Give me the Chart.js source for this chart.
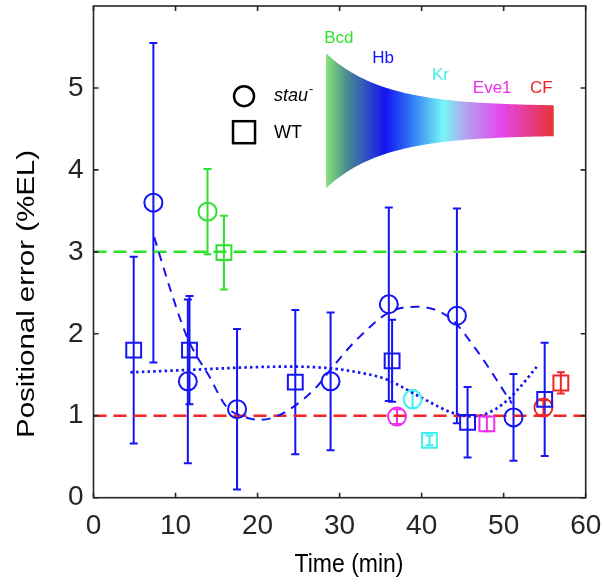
<!DOCTYPE html>
<html>
<head>
<meta charset="utf-8">
<script src="https://cdn.jsdelivr.net/npm/chart.js@4.4.0/dist/chart.umd.min.js"></script>
<style>
  html, body { margin: 0; padding: 0; background: #fff; }
</style>
</head>
<body>
<canvas id="errChart" width="604" height="584"></canvas>
<script>
// positional error of the gap gene boundaries, stau- embryos vs WT

// Hb (blue) - the full time courses
const hbStauTime = [7.3, 11.5, 17.5, 28.9, 36.0, 44.3, 51.2];
const hbStauErr  = [3.60, 1.42, 1.08, 1.42, 2.36, 2.22, 0.98];
const hbStauSd   = [1.95, 1.00, 0.98, 0.84, 1.18, 1.31, 0.53];
const hbWtTime   = [4.9, 11.7, 24.6, 36.4, 45.6, 55.0];
const hbWtErr    = [1.80, 1.80, 1.41, 1.67, 0.92, 1.20];
const hbWtSd     = [1.14, 0.66, 0.88, 0.50, 0.43, 0.69];

// single measurements for the other genes
const bcdStauTime = [13.9],  bcdStauErr = [3.49], bcdStauSd = [0.52];
const bcdWtTime   = [15.9],  bcdWtErr   = [2.99], bcdWtSd   = [0.45];
const krStauTime  = [38.9],  krStauErr  = [1.20], krStauSd  = [0.11];
const krWtTime    = [40.95], krWtErr    = [0.70], krWtSd    = [0.06];
const eveStauTime = [37.0],  eveStauErr = [0.99], eveStauSd = [0.09];
const eveWtTime   = [47.95], eveWtErr   = [0.90], eveWtSd   = [0.09];
const cfStauTime  = [54.85], cfStauErr  = [1.10], cfStauSd  = [0.09];
const cfWtTime    = [56.97], cfWtErr    = [1.40], cfWtSd    = [0.13];

// reference levels (dashed lines)
const refTime = [0, 60];
const bcdLevel = [3, 3];
const cfLevel  = [1, 1];

// guide curves through the Hb points
const stauFitTime = [7.4, 9.5, 11.4, 12.4, 14.0, 16.2, 18.0, 20.3, 22.7, 26.8, 29.2, 32.0, 36.2, 39.4, 43.5, 46.7, 51.0];
const stauFitErr  = [3.18, 2.50, 1.96, 1.76, 1.50, 1.11, 1.00, 0.95, 1.01, 1.31, 1.60, 1.92, 2.27, 2.33, 2.19, 1.80, 1.15];
const wtFitTime = [4.5, 11.8, 18.7, 24.0, 28.8, 31.7, 35.8, 39.8, 43.9, 46.3, 48.0, 50.0, 52.0, 54.05];
const wtFitErr  = [1.53, 1.56, 1.59, 1.60, 1.58, 1.54, 1.44, 1.23, 1.03, 0.99, 1.03, 1.15, 1.35, 1.60];

// axis ticks
const xTicks = [0, 10, 20, 30, 40, 50, 60];
const yTicks = [0, 1, 2, 3, 4, 5];

// genes shown in the inset
const genes = ['Bcd', 'Hb', 'Kr', 'Eve1', 'CF'];

const FONT = "'Liberation Sans', Arial, Helvetica, sans-serif";
const BLUE = '#1414f4', GREEN = '#2fe02f', CYAN = '#3ff0f0', MAGENTA = '#ee30ee', RED = '#ee2525';
const geneColors = [GREEN, BLUE, CYAN, MAGENTA, RED];

function pts(t, v) { return t.map((x, i) => ({ x: x, y: v[i] })); }

function markers(label, t, v, sd, color, style) {
  return {
    label: label,
    data: pts(t, v),
    sd: sd,
    showLine: false,
    pointStyle: style,
    pointRadius: style === 'rect' ? 10.5 : 9,
    pointBorderWidth: 2,
    borderColor: color,
    backgroundColor: 'rgba(0,0,0,0)',
    pointBackgroundColor: 'rgba(0,0,0,0)'
  };
}

function curve(label, t, v, color, width, dash) {
  return {
    label: label,
    data: pts(t, v),
    showLine: true,
    pointRadius: 0,
    borderColor: color,
    borderWidth: width,
    borderDash: dash,
    cubicInterpolationMode: 'monotone',
    fill: false
  };
}

const datasets = [
  markers('Hb stau', hbStauTime, hbStauErr, hbStauSd, BLUE, 'circle'),
  markers('Hb WT', hbWtTime, hbWtErr, hbWtSd, BLUE, 'rect'),
  markers('Bcd stau', bcdStauTime, bcdStauErr, bcdStauSd, GREEN, 'circle'),
  markers('Bcd WT', bcdWtTime, bcdWtErr, bcdWtSd, GREEN, 'rect'),
  markers('Kr stau', krStauTime, krStauErr, krStauSd, CYAN, 'circle'),
  markers('Kr WT', krWtTime, krWtErr, krWtSd, CYAN, 'rect'),
  markers('Eve1 stau', eveStauTime, eveStauErr, eveStauSd, MAGENTA, 'circle'),
  markers('Eve1 WT', eveWtTime, eveWtErr, eveWtSd, MAGENTA, 'rect'),
  markers('CF stau', cfStauTime, cfStauErr, cfStauSd, RED, 'circle'),
  markers('CF WT', cfWtTime, cfWtErr, cfWtSd, RED, 'rect'),
  curve('stau fit', stauFitTime, stauFitErr, BLUE, 2, [9, 7]),
  curve('WT fit', wtFitTime, wtFitErr, BLUE, 2.7, [2.5, 3.2]),
  curve('Bcd level', refTime, bcdLevel, GREEN, 2.5, [13, 7]),
  curve('CF level', refTime, cfLevel, RED, 2.5, [13, 7])
];

// vertical error bars with caps
const errorBars = {
  id: 'errorBars',
  beforeDatasetsDraw(chart) {
    const ctx = chart.ctx, y = chart.scales.y;
    chart.data.datasets.forEach((ds, i) => {
      if (!ds.sd) return;
      const meta = chart.getDatasetMeta(i);
      ctx.save();
      ctx.strokeStyle = ds.borderColor;
      ctx.lineWidth = 2;
      meta.data.forEach((pt, j) => {
        const v = ds.data[j].y, s = ds.sd[j];
        const top = y.getPixelForValue(v + s), bot = y.getPixelForValue(v - s);
        ctx.beginPath();
        ctx.moveTo(pt.x, top); ctx.lineTo(pt.x, bot);
        ctx.moveTo(pt.x - 4, top); ctx.lineTo(pt.x + 4, top);
        ctx.moveTo(pt.x - 4, bot); ctx.lineTo(pt.x + 4, bot);
        ctx.stroke();
      });
      ctx.restore();
    });
  }
};

// matlab style box with inward ticks, plus the axis titles
const axesBox = {
  id: 'axesBox',
  afterDatasetsDraw(chart) {
    const ctx = chart.ctx, a = chart.chartArea;
    const xs = chart.scales.x, ys = chart.scales.y;
    ctx.save();
    ctx.strokeStyle = '#262626';
    ctx.lineWidth = 1.6;
    ctx.strokeRect(a.left, a.top, a.right - a.left, a.bottom - a.top);
    ctx.beginPath();
    xTicks.forEach(t => {
      const px = xs.getPixelForValue(t);
      ctx.moveTo(px, a.bottom); ctx.lineTo(px, a.bottom - 5);
      ctx.moveTo(px, a.top); ctx.lineTo(px, a.top + 5);
    });
    yTicks.forEach(t => {
      const py = ys.getPixelForValue(t);
      ctx.moveTo(a.left, py); ctx.lineTo(a.left + 5, py);
      ctx.moveTo(a.right, py); ctx.lineTo(a.right - 5, py);
    });
    ctx.stroke();

    // titles (the source figure is a bit stretched vertically)
    ctx.fillStyle = '#000';
    ctx.textAlign = 'center';
    ctx.textBaseline = 'middle';
    ctx.font = '23px ' + FONT;
    ctx.save();
    ctx.translate(349, 565);
    ctx.scale(1, 1.15);
    ctx.fillText('Time (min)', 0, 0);
    ctx.restore();
    ctx.save();
    ctx.translate(28, 294);
    ctx.rotate(-Math.PI / 2);
    ctx.scale(1.28, 1);
    ctx.fillText('Positional error (%EL)', 0, 0);
    ctx.restore();
    ctx.restore();
  }
};

// the key for marker shapes and the gradient inset
const inset = {
  id: 'inset',
  afterDraw(chart) {
    const ctx = chart.ctx;
    const xs = chart.scales.x, ys = chart.scales.y;
    const X = v => xs.getPixelForValue(v), Y = v => ys.getPixelForValue(v);
    ctx.save();

    // key
    ctx.strokeStyle = '#000';
    ctx.lineWidth = 2.5;
    ctx.beginPath();
    ctx.arc(X(18.35), Y(4.9), 10, 0, Math.PI * 2);
    ctx.stroke();
    ctx.strokeRect(X(18.35) - 11, Y(4.46) - 11, 22, 22);
    ctx.fillStyle = '#000';
    ctx.textBaseline = 'middle';
    ctx.textAlign = 'left';
    ctx.font = 'italic 18px ' + FONT;
    ctx.fillText('stau', X(22.0), Y(4.9));
    const w = ctx.measureText('stau').width;
    ctx.font = '13px ' + FONT;
    ctx.fillText('-', X(22.0) + w + 1, Y(4.9) - 7);
    ctx.font = '18px ' + FONT;
    ctx.fillText('WT', X(22.0), Y(4.46) + 1);

    // funnel
    const x0 = X(28.35), x1 = X(56.1);
    const yc = Y(4.6);
    const pxPerUnit = Y(0) - Y(1);
    const hw = f => (0.177 + 0.646 * Math.exp(-f / 0.25)) * pxPerUnit;
    const grad = ctx.createLinearGradient(x0, 0, x1, 0);
    [[0, '#86e27c'], [0.09, '#4b8d8e'], [0.26, '#1414f2'], [0.37, '#2f74f4'],
     [0.515, '#76f7f8'], [0.61, '#b3a5f0'], [0.77, '#e545ee'], [1, '#e63333']]
      .forEach(s => grad.addColorStop(s[0], s[1]));
    ctx.beginPath();
    const n = 80;
    for (let k = 0; k <= n; k++) {
      const f = k / n;
      const px = x0 + (x1 - x0) * f;
      if (k === 0) ctx.moveTo(px, yc - hw(f)); else ctx.lineTo(px, yc - hw(f));
    }
    for (let k = n; k >= 0; k--) {
      const f = k / n;
      ctx.lineTo(x0 + (x1 - x0) * f, yc + hw(f));
    }
    ctx.closePath();
    ctx.fillStyle = grad;
    ctx.fill();

    // gene names above the funnel
    const labelPos = [[29.9, 5.61], [35.3, 5.36], [42.3, 5.16], [48.6, 5.0], [54.6, 5.0]];
    ctx.font = '17px ' + FONT;
    ctx.textAlign = 'center';
    genes.forEach((g, i) => {
      ctx.fillStyle = geneColors[i];
      ctx.fillText(g, X(labelPos[i][0]), Y(labelPos[i][1]));
    });
    ctx.restore();
  }
};

function zeroPad(scale) {
  scale.paddingTop = 0; scale.paddingBottom = 0;
  scale.paddingLeft = 0; scale.paddingRight = 0;
}

const ctx = document.getElementById('errChart').getContext('2d');
new Chart(ctx, {
  type: 'scatter',
  data: { datasets: datasets },
  plugins: [errorBars, axesBox, inset],
  options: {
    responsive: false,
    animation: false,
    layout: { autoPadding: false, padding: { top: 6, right: 18.3, left: 0, bottom: 0 } },
    plugins: { legend: { display: false }, tooltip: { enabled: false } },
    scales: {
      x: {
        type: 'linear', min: 0, max: 60,
        afterBuildTicks: s => { s.ticks = xTicks.map(v => ({ value: v })); },
        afterFit: s => { s.height = 86.3; zeroPad(s); },
        grid: { display: false, drawTicks: false },
        border: { display: false },
        ticks: { color: '#262626', padding: 12, font: { family: FONT, size: 28 } },
        title: { display: false }
      },
      y: {
        type: 'linear', min: 0, max: 6,
        afterBuildTicks: s => { s.ticks = yTicks.map(v => ({ value: v })); },
        afterFit: s => { s.width = 93.5; zeroPad(s); },
        grid: { display: false, drawTicks: false },
        border: { display: false },
        ticks: { color: '#262626', padding: 10, font: { family: FONT, size: 28 } },
        title: { display: false }
      }
    }
  }
});
</script>
</body>
</html>
